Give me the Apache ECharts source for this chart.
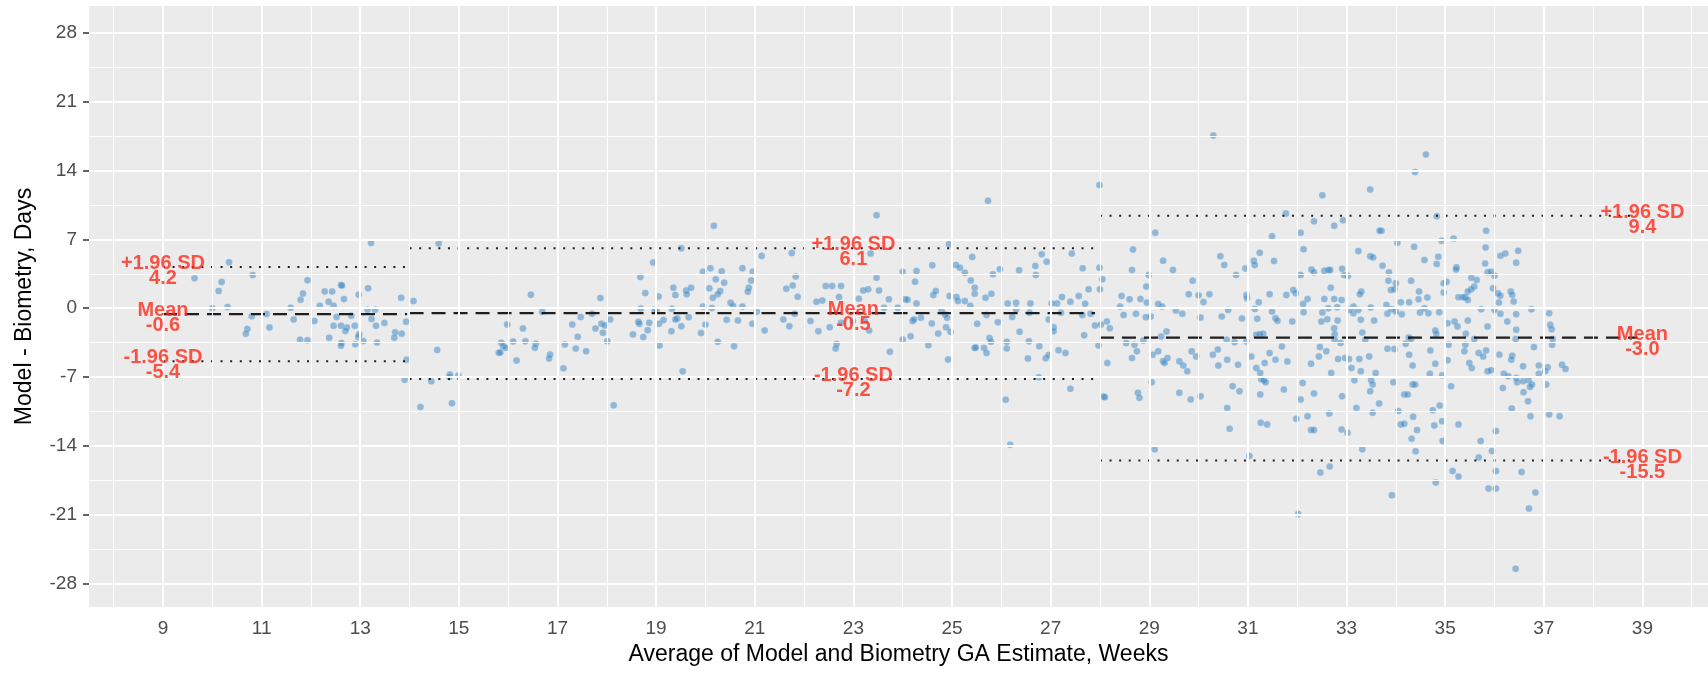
<!DOCTYPE html>
<html>
<head>
<meta charset="utf-8">
<script src="https://cdn.jsdelivr.net/npm/echarts@6/dist/echarts.min.js"></script>
<style>
  html, body { margin: 0; padding: 0; background: #fff; }
  #chart { width: 1708px; height: 674px; }
</style>
</head>
<body>
<div id="chart"></div>
<script>
// axis ticks
const xTicks = [9, 11, 13, 15, 17, 19, 21, 23, 25, 27, 29, 31, 33, 35, 37, 39]
const xMinor = [8, 10, 12, 14, 16, 18, 20, 22, 24, 26, 28, 30, 32, 34, 36, 38, 40]
const yTicks = [-28, -21, -14, -7, 0, 7, 14, 21, 28]
const yMinor = [-24.5, -17.5, -10.5, -3.5, 3.5, 10.5, 17.5, 24.5]

// limits of agreement per trimester
const segStart = [9, 14, 28]
const segEnd = [13.95, 27.9, 38.9]
const labelX = [9, 23, 39]
const means = [-0.6, -0.5, -3.0]
const upper = [4.2, 6.1, 9.4]
const lower = [-5.4, -7.2, -15.5]

// [average GA (weeks), difference (days)]
const trim1 = [
  [9.64,3.05],[10.34,4.67],[10.19,2.68],[10.13,1.75],[10.0,0.0],[10.31,0.12],[10.82,3.37],[10.8,-0.81],[10.71,-2.11],[10.68,-2.6],
  [11.1,-0.6],[11.16,-1.95],[11.59,0.04],[11.65,-1.14],[11.79,0.85],[11.84,1.5],[11.93,2.85],[11.78,-3.2],[11.93,-3.25],[12.07,-1.3],
  [12.18,0.24],[12.28,1.7],[12.36,0.65],[12.43,1.7],[12.46,0.24],[12.61,2.36],[12.63,2.3],[12.67,0.93],[12.52,-0.89],[12.46,-1.79],
  [12.61,-1.79],[12.73,-1.95],[12.7,-2.32],[12.37,-3.0],[12.62,-3.54],[12.61,-3.82],[12.82,-0.77],[12.89,-1.79],[12.97,1.38],[12.98,-2.64],
  [12.96,-2.93],[12.9,-3.66],[13.06,-3.33],[13.16,2.03],[13.15,-0.16],[13.3,-0.16],[13.22,6.63],[13.23,-1.1],[13.32,-1.79],[13.34,-3.5],
  [13.49,-1.5],[13.71,-2.44],[13.69,-3.0],[13.83,1.06],[13.84,-2.6],[13.93,-1.38],[13.94,-5.24],[13.9,-7.28]
]
const trim2 = [
  [14.08,0.73],[14.22,-10.04],[14.59,6.58],[14.56,-4.24],[14.44,-7.43],[14.82,-6.75],[14.81,-7.0],[14.99,-6.85],[14.86,-9.68],
  [16.46,1.37],[16.69,-0.36],[15.98,-1.65],[16.3,-2.06],[16.35,-3.35],[16.1,-3.39],[15.86,-3.52],[15.9,-3.86],[15.95,-4.03],[15.81,-4.54],
  [15.84,-4.5],[16.17,-5.32],[16.56,-3.62],[16.54,-4.03],[16.85,-4.71],[16.83,-5.12],[17.12,-6.11],[17.15,-3.69],[17.3,-1.65],[17.37,-4.1],
  [17.41,-2.91],[17.47,-0.9],[17.58,-4.37],[17.7,-0.56],[17.77,-2.06],[17.87,1.03],[17.89,-1.58],[17.96,-1.75],[17.92,-2.5],[18.01,-3.35],
  [18.07,-1.14],[18.14,-9.88],[18.68,3.18],[18.94,4.64],[18.78,1.54],[18.69,-0.02],[19.05,1.2],[18.97,-0.16],[18.64,-1.38],[18.66,-1.58],
  [18.86,-1.48],[18.83,-2.23],[18.53,-2.67],[18.74,-2.94],[19.06,-1.58],[19.07,-3.79],
  [20.17,8.38],[19.51,6.1],[19.95,3.72],[20.1,4.06],[20.33,3.75],[20.21,2.94],[20.38,2.6],[20.3,1.75],[20.08,2.02],[20.15,1.07],
  [20.25,1.41],[19.61,1.81],[19.62,1.41],[19.71,2.09],[19.35,2.09],[19.39,1.34],[19.01,-0.29],[19.32,-0.06],[19.43,-1.04],[19.39,-1.14],
  [19.15,-1.21],[19.31,-2.34],[19.51,-1.83],[19.66,-0.91],[19.54,-6.42],[19.91,-2.51],[19.95,0.18],[20.0,-1.66],[20.13,0.01],[20.25,-3.42],
  [20.43,-1.18],[20.51,0.56],[20.56,0.22],[20.58,-3.87],[20.66,-1.25],[20.75,0.18],[20.75,4.06],[20.96,3.72],[20.93,2.83],[20.88,2.09],
  [20.86,1.68],[21.04,-0.36],[20.95,-1.59],[21.2,-2.27],[21.14,5.32],[21.75,5.62],[21.83,3.24],[21.77,2.32],[21.64,1.98],[21.87,1.17],
  [21.58,-1.14],[21.7,-1.83],[21.81,-0.57],[22.13,-1.31],[22.25,0.66],[22.37,0.79],[22.44,2.26],[22.57,2.26],[22.75,2.26],[22.71,1.13],
  [22.52,-1.93],[22.29,-2.34],[22.66,-3.63],[22.64,-4.1],[22.75,-1.49],[23.47,9.47],[23.35,5.56],[23.47,3.11],[23.52,1.81],[23.2,1.81],
  [23.3,1.92],[23.11,0.96],[23.72,0.9],[23.62,0.05],[23.9,0.05],[23.23,-1.31],[23.32,-2.27],[23.74,-4.44],[22.99,-1.31],
  [24.0,3.69],[24.28,3.79],[24.6,4.37],[24.25,2.7],[24.05,0.9],[24.1,0.85],[24.28,0.49],[24.2,-1.31],[24.23,-1.14],[24.37,-0.97],
  [24.59,-1.55],[24.62,1.34],[24.67,1.75],[24.52,-3.76],[24.72,-2.57],[24.0,-3.19],[24.16,-2.85],[24.79,-0.29],[24.86,-0.63],[24.92,-5.23],
  [24.94,6.51],[24.95,1.24],[24.9,-0.97],[24.88,-1.93],[24.97,-2.4],[25.08,4.4],[25.16,4.13],[25.26,3.62],[25.38,2.83],[25.46,2.09],
  [25.46,1.47],[25.09,1.13],[25.12,0.73],[25.26,0.73],[25.37,0.25],[25.41,5.22],[25.73,10.93],[25.51,-1.59],[25.46,-4.04],[25.48,-4.0],
  [25.65,-4.04],[25.7,-4.55],[25.68,1.07],[25.8,1.47],[25.7,-0.7],[25.83,3.45],[25.97,3.96],[25.76,-3.02],[25.79,-3.42],[25.93,-1.42],
  [26.09,-9.31],[26.18,-13.9],[26.11,-3.42],[26.11,-4.1],[26.13,0.49],[26.22,-0.9],[26.3,0.56],[26.3,-0.12],[26.36,3.86],[26.37,-2.4],
  [26.54,-5.12],[26.56,-3.36],[26.59,0.49],[26.57,-0.46],[26.69,4.3],[26.7,3.38],[26.82,5.49],[26.92,4.74],[26.77,-3.87],[26.76,-7.03],
  [26.9,-5.09],[26.96,-4.75],[26.96,-1.14],[27.06,-1.93],[27.06,-2.34],[27.02,0.49],[27.13,0.49],[27.23,1.13],[27.16,-4.27],[27.3,-4.55],
  [27.21,-0.46],[27.4,0.66],[27.4,-8.19],[27.43,5.56],[27.57,1.24],[27.65,4.06],[27.7,0.46],[27.77,1.92],[27.81,-0.57],[27.68,-2.74],
  [27.64,-0.7],[27.9,-1.76],[27.99,4.13],[27.97,-3.8],[27.99,12.53]
]
const trim3 = [
  [28.05,2.94],[28.0,1.92],[28.02,-1.66],[28.07,-8.97],[28.1,-9.05],[28.15,-5.57],
  [30.3,17.57],[29.12,7.67],[28.67,5.98],[29.28,4.83],[29.48,3.89],[28.65,3.89],[28.99,3.38],[28.94,2.2],[28.82,0.95],[28.95,0.57],
  [28.6,0.91],[28.44,1.25],[28.41,0.17],[28.48,-0.68],[28.73,-0.57],[28.93,-0.91],[29.03,-0.84],[29.18,0.44],[29.26,0.17],[29.54,-0.24],
  [29.67,-0.57],[29.88,2.8],[29.8,1.42],[30.0,1.32],[30.1,0.64],[30.22,1.42],[30.44,5.3],[30.52,4.39],[30.6,-0.17],[30.47,-0.84],
  [30.04,-0.95],[28.14,-1.35],[28.2,-2.03],[28.53,-3.55],[28.7,-3.72],[28.75,-4.39],[28.65,-5.07],[28.88,-3.28],[29.07,-4.73],[29.18,-4.39],
  [29.24,-2.87],[29.35,-2.36],[29.28,-5.4],[29.31,-5.57],[29.37,-5.07],[29.05,-7.53],[28.77,-8.61],[28.8,-9.12],[29.11,-14.36],[29.61,-5.4],
  [29.69,-5.84],[29.77,-6.42],[29.61,-8.61],[29.84,-9.29],[29.86,-4.39],[29.95,-4.9],[30.04,-8.95],[30.29,-4.73],[30.4,-5.84],[30.39,-4.2],
  [30.57,-3.21],[30.58,-5.24],[30.58,-10.14],[30.63,-12.26],
  [32.51,11.49],[31.77,9.63],[32.34,8.85],[32.75,8.38],[32.93,8.95],[31.49,7.33],[32.07,7.67],[32.13,6.01],[33.24,5.81],[31.24,5.64],
  [31.12,4.83],[31.14,4.39],[31.53,4.8],[30.95,4.05],[30.76,3.38],[32.07,3.38],[32.29,3.95],[32.34,3.65],[32.55,3.82],[32.63,3.89],
  [32.67,3.89],[32.91,4.02],[32.95,3.38],[33.03,3.28],[32.68,2.09],[30.97,1.35],[30.98,1.01],[31.44,1.42],[31.78,1.35],[31.92,1.86],
  [31.97,1.52],[32.12,0.44],[32.13,-0.41],[32.21,0.95],[32.55,0.95],[32.63,0.0],[32.75,0.95],[32.9,0.84],[33.05,-0.17],[33.14,-0.51],
  [33.3,1.69],[33.27,1.42],[30.88,-1.05],[31.14,-0.07],[31.19,-1.08],[31.22,0.61],[31.49,-0.34],[31.56,-1.01],[31.6,-1.28],[31.9,-1.35],
  [32.51,-0.44],[32.49,-1.35],[32.61,-1.11],[32.82,-1.25],[32.75,-2.03],[32.76,-2.64],[32.76,-3.21],[32.81,0.1],[32.88,-3.55],[33.14,0.17],
  [33.24,-0.17],[33.29,-1.18],[33.32,-2.47],[33.26,-5.17],[33.29,-6.42],[30.73,-3.45],[30.97,-3.38],[31.17,-2.7],[31.24,-2.64],[31.31,-2.6],
  [31.07,-4.9],[31.34,-5.57],[31.44,-4.56],[31.56,-5.24],[31.69,-3.89],[31.8,-5.41],[31.17,-6.08],[31.25,-6.59],[31.27,-7.2],[31.32,-7.33],
  [31.36,-7.53],[30.8,-5.74],[30.69,-7.94],[30.83,-8.45],[31.25,-8.78],[31.73,-8.28],[32.11,-7.6],[32.28,-5.64],[32.07,-9.29],[32.34,-8.68],
  [32.46,-3.95],[32.44,-4.9],[32.59,-4.39],[32.69,-6.59],[32.83,-5.17],[32.97,-5.07],[33.05,-5.17],[33.1,-6.08],[33.16,-7.33],[32.91,-8.95],
  [33.2,-10.14],[32.65,-10.71],[32.21,-10.98],[31.98,-11.25],[32.28,-12.4],[32.34,-12.4],[32.9,-12.33],[33.02,-12.67],[31.26,-11.66],[31.39,-11.82],
  [31.03,-15.03],[33.32,-14.36],[32.47,-16.72],[32.66,-16.11],[32.02,-20.95],
  [34.61,15.64],[34.39,13.85],[33.48,12.09],[34.83,9.36],[33.71,7.87],[33.67,7.87],[34.03,6.66],[34.37,6.25],[34.93,6.86],[35.17,7.09],
  [35.83,7.87],[35.82,6.18],[34.58,4.9],[34.86,5.24],[34.83,4.49],[33.48,5.3],[33.54,5.17],[33.73,4.32],[33.86,3.65],[33.85,2.8],
  [34.0,2.53],[33.9,1.86],[33.97,1.93],[34.31,2.8],[34.47,1.69],[34.46,0.91],[34.1,0.61],[34.27,0.61],[34.64,1.08],[35.23,4.16],
  [35.22,3.95],[35.03,2.7],[34.97,2.53],[34.97,1.59],[35.53,3.11],[35.64,2.87],[35.59,2.2],[35.53,1.93],[35.46,1.69],[35.41,1.11],
  [35.36,1.11],[35.27,1.11],[35.46,0.84],[35.81,4.56],[35.86,3.65],[35.93,3.72],[36.0,3.31],[35.97,2.03],[36.07,1.52],[35.73,-0.1],
  [36.0,-0.17],[33.49,0.07],[33.81,0.34],[33.83,-0.57],[33.91,-0.1],[34.0,-0.34],[34.12,-0.61],[33.56,-1.25],[34.58,0.0],[34.49,-0.44],
  [34.66,-0.51],[34.88,-0.41],[34.8,-2.26],[34.82,-2.6],[35.05,-1.52],[35.19,-1.35],[35.25,-1.86],[35.46,-1.25],[35.42,-2.6],[35.41,-3.72],
  [35.39,-4.39],[35.49,-5.57],[35.54,-6.08],[35.59,-3.14],[35.68,-4.56],[35.77,-4.9],[35.83,-4.29],[35.86,-1.86],[35.86,-6.42],[35.93,-6.32],
  [34.26,-2.97],[34.27,-4.73],[34.31,-3.14],[34.2,-3.61],[34.34,-5.84],[33.83,-4.12],[33.97,-4.15],[34.7,-4.29],[34.8,-5.64],[34.69,-6.66],
  [34.94,-6.82],[35.05,-5.3],[35.07,-3.72],[35.12,-7.94],[33.38,-3.21],[33.46,-4.9],[33.59,-6.59],[33.5,-7.33],[33.53,-7.77],[33.48,-8.45],
  [33.66,-9.7],[33.53,-10.64],[33.95,-7.53],[34.17,-8.78],[34.24,-8.78],[34.34,-7.77],[34.39,-7.77],[34.05,-10.47],[34.1,-11.82],[34.17,-11.76],
  [34.35,-11.05],[34.43,-12.4],[34.32,-13.28],[34.4,-14.56],[34.75,-10.37],[34.78,-11.93],[34.89,-9.9],[34.94,-11.49],[34.95,-13.51],[34.81,-17.74],
  [35.27,-11.82],[35.15,-16.55],[35.27,-17.13],[35.72,-13.51],[35.68,-15.2],[35.95,-14.53],[36.03,-12.5],[35.88,-18.34],[36.03,-18.34],[36.03,-16.55],
  [33.92,-19.02],
  [36.48,5.84],[36.44,4.63],[36.22,5.57],[36.12,5.34],[36.33,1.69],[36.36,1.35],[36.39,0.68],[36.12,1.28],[36.09,0.57],[36.12,-0.57],
  [36.26,-1.35],[36.44,-0.61],[36.44,-2.2],[36.43,-3.14],[36.75,-0.1],[36.8,-3.95],[37.11,-0.51],[37.13,-1.69],[37.16,-2.13],[37.18,-3.14],
  [37.17,-3.72],[36.1,-4.73],[36.36,-4.83],[36.34,-5.24],[36.58,-5.91],[36.9,-5.84],[36.9,-6.66],[37.08,-6.01],[37.03,-6.42],[37.37,-5.74],
  [37.44,-6.18],[36.19,-6.66],[36.28,-6.93],[36.17,-8.11],[36.44,-7.09],[36.46,-7.53],[36.58,-7.43],[36.69,-7.33],[36.72,-8.01],[36.76,-7.77],
  [37.05,-7.77],[36.59,-8.55],[36.68,-9.46],[36.35,-10.2],[36.73,-10.98],[37.11,-10.81],[37.32,-10.98],[36.55,-16.66],[36.83,-18.75],[36.7,-20.37],
  [36.43,-26.52]
]

const FONT = '"Liberation Sans", Arial, sans-serif'
const LABEL_RED = '#FF2A1A'

const chart = echarts.init(document.getElementById('chart'), null, {renderer: 'canvas'})

// white panel grid, drawn as mark lines so they sit exactly on the tick values
const gridLines = [
  ...xTicks.map((v) => ({xAxis: v, lineStyle: {width: 2}})),
  ...xMinor.map((v) => ({xAxis: v, lineStyle: {width: 1}})),
  ...yTicks.map((v) => ({yAxis: v, lineStyle: {width: 2}})),
  ...yMinor.map((v) => ({yAxis: v, lineStyle: {width: 1}})),
]

const segLine = (i, y, dash, name) => ({
  name,
  type: 'line',
  data: [[segStart[i], y], [segEnd[i], y]],
  symbol: 'none',
  silent: true,
  z: 4,
  lineStyle: {color: '#1e1e1e', width: dash === 'dashed' ? 2.2 : 2, type: dash === 'dashed' ? [14, 8] : [2, 7.6]},
})

const refSeries = []
means.forEach((m, i) => {
  refSeries.push(segLine(i, m, 'dashed', 'mean' + i))
  refSeries.push(segLine(i, upper[i], 'dotted', 'upper' + i))
  refSeries.push(segLine(i, lower[i], 'dotted', 'lower' + i))
})

const labelData = []
means.forEach((m, i) => {
  labelData.push({value: [labelX[i], upper[i]], name: '+1.96 SD\n' + upper[i].toFixed(1)})
  labelData.push({value: [labelX[i], m], name: 'Mean\n' + m.toFixed(1)})
  labelData.push({value: [labelX[i], lower[i]], name: '-1.96 SD\n' + lower[i].toFixed(1)})
})

const pointStyle = {
  color: 'rgba(44,124,190,0.58)',
  borderColor: 'rgba(150,195,230,0.55)',
  borderWidth: 0.8,
}

chart.setOption({
  animation: false,
  backgroundColor: '#ffffff',
  grid: {left: 89, right: 0, top: 6, bottom: 67, show: true, backgroundColor: '#EBEBEB', borderWidth: 0},
  xAxis: {
    type: 'value',
    min: 7.5,
    max: 40.33,
    name: 'Average of Model and Biometry GA Estimate, Weeks',
    nameLocation: 'middle',
    nameGap: 34,
    nameTextStyle: {fontFamily: FONT, fontSize: 23, color: '#000'},
    axisLine: {show: false},
    splitLine: {show: false},
    axisTick: {show: true, customValues: xTicks, length: 6, lineStyle: {color: '#333', width: 1.5}},
    axisLabel: {customValues: xTicks, margin: 12, fontFamily: FONT, fontSize: 19, color: '#4D4D4D'},
  },
  yAxis: {
    type: 'value',
    min: -30.4,
    max: 30.75,
    name: 'Model - Biometry, Days',
    nameLocation: 'middle',
    nameGap: 53,
    nameTextStyle: {fontFamily: FONT, fontSize: 23, color: '#000'},
    axisLine: {show: false},
    splitLine: {show: false},
    axisTick: {show: true, customValues: yTicks, length: 6, lineStyle: {color: '#333', width: 1.5}},
    axisLabel: {customValues: yTicks, margin: 12, fontFamily: FONT, fontSize: 19, color: '#4D4D4D'},
  },
  series: [
    {
      name: 'grid',
      type: 'line',
      data: [],
      z: 1,
      silent: true,
      markLine: {
        silent: true,
        symbol: ['none', 'none'],
        label: {show: false},
        animation: false,
        lineStyle: {color: '#ffffff', type: 'solid'},
        data: gridLines,
      },
    },
    {name: 'First trimester', type: 'scatter', data: trim1, symbolSize: 6.5, itemStyle: pointStyle, z: 3},
    {name: 'Second trimester', type: 'scatter', data: trim2, symbolSize: 6.5, itemStyle: pointStyle, z: 3},
    {name: 'Third trimester', type: 'scatter', data: trim3, symbolSize: 6.5, itemStyle: pointStyle, z: 3},
    ...refSeries,
    {
      name: 'labels',
      type: 'scatter',
      data: labelData,
      symbolSize: 0,
      silent: true,
      z: 6,
      label: {
        show: true,
        position: 'inside',
        formatter: '{b}',
        offset: [0, 4],
        fontFamily: FONT,
        fontSize: 20,
        fontWeight: 'bold',
        lineHeight: 15,
        color: LABEL_RED,
        align: 'center',
      },
    },
  ],
})
</script>
</body>
</html>
